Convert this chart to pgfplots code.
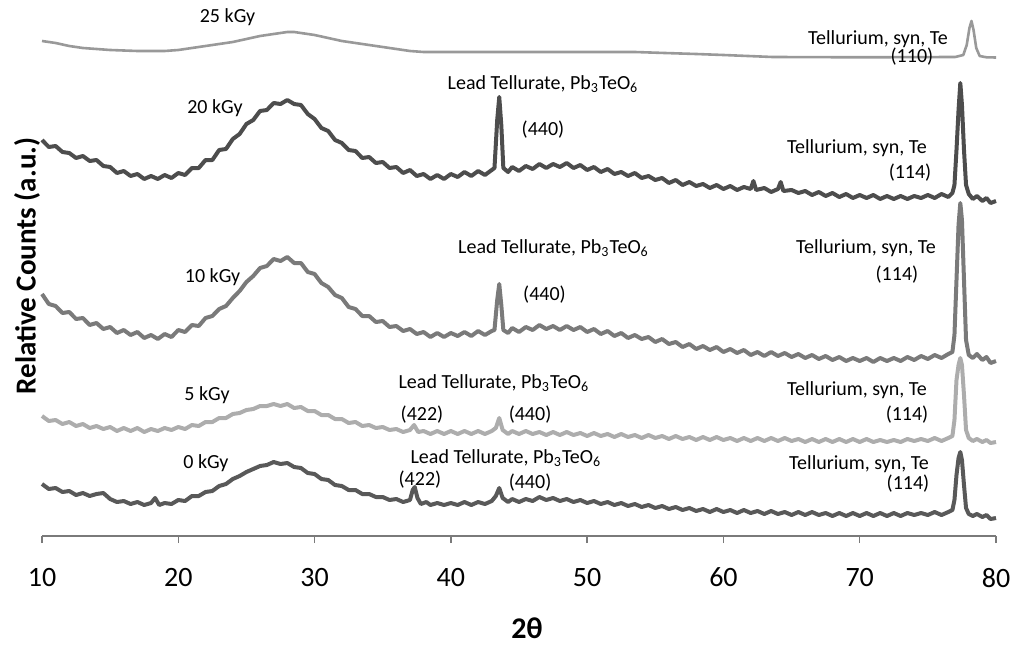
\documentclass[border=0pt]{standalone}
\usepackage{fontspec}
\setmainfont{Carlito}
\usepackage{pgfplots}
\pgfplotsset{compat=1.18}
\definecolor{cA}{HTML}{999999}
\definecolor{cB}{HTML}{4D4D4D}
\definecolor{cC}{HTML}{7A7A7A}
\definecolor{cD}{HTML}{ADADAD}
\definecolor{cE}{HTML}{595959}
\definecolor{axc}{HTML}{7A7A7A}
\begin{document}
\begin{tikzpicture}
\begin{axis}[
  scale only axis,
  width=477pt, height=268pt,
  xmin=10, xmax=80, ymin=-536, ymax=0,
  clip=false,
  axis x line*=bottom,
  axis y line=none,
  x axis line style={-, draw=axc, line width=0.75pt},
  xtick={10,20,30,40,50,60,70,80},
  ytick=\empty,
  tick align=outside,
  major tick length=3.5pt,
  tick style={draw=axc, line width=0.75pt},
  /pgf/number format/assume math mode=true,
  xticklabel style={font=\fontsize{14}{14}\selectfont, yshift=-9pt},
  every axis plot/.append style={line join=round},
]
\coordinate (BL) at (axis cs:6.918,-649);
\coordinate (TR) at (axis cs:82.054,0);

% 25 kGy
\addplot[cA, line width=1.3pt, mark=none] coordinates {
(10,-41)(11,-43)(12,-46)(13,-48)(14,-49)(15,-50)(16,-50.5)(17,-51)(18,-51)(19,-51)
(20,-50)(21,-48)(22,-46)(23,-44)(24,-42)(25,-39)(26,-36)(27,-34)(28,-32)(28.5,-32)
(29,-33)(30,-35)(31,-38)(32,-41)(33,-43)(34,-45)(35,-47)(36,-49)(37,-51)(38,-52)
(40,-52)(44,-52)(50,-52)(53.5,-52)(55.7,-53)(58,-54)(60,-55)(63.6,-57)(70,-57.3)
(77,-57)(77.6,-55)(77.85,-45)(78.05,-28)(78.2,-21)(78.35,-30)(78.55,-48)(78.8,-56)(79.3,-57.3)(80,-57.5)
};

% 20 kGy
\addplot[cB, line width=2pt, mark=none] coordinates {
(10,-140)(10.5,-147)(11,-146)(11.5,-152)(12,-153)(12.5,-158)(13,-156)(13.5,-161)(14,-160)(14.5,-166)
(15,-167)(15.5,-173)(16,-171)(16.5,-176)(17,-174)(17.5,-179)(18,-176)(18.5,-179)(19,-175)(19.5,-178)
(20,-173)(20.5,-175)(21,-168)(21.5,-168)(22,-160)(22.5,-160)(23,-150)(23.5,-149)(24,-139)(24.5,-134)
(25,-124)(25.5,-120)(26,-111)(26.5,-110)(27,-103)(27.5,-104)(28,-100)(28.5,-104)(29,-105)(29.5,-114)
(30,-119)(30.5,-128)(31,-131)(31.5,-140)(32,-143)(32.5,-150)(33,-151)(33.5,-158)(34,-157)(34.5,-163)
(35,-162)(35.5,-168)(36,-167)(36.5,-173)(37,-170)(37.5,-176)(38,-174)(38.5,-179)(39,-175)(39.5,-179)
(40,-174)(40.5,-177)(41,-172)(41.5,-176)(42,-171)(42.5,-175)(43,-170)(43.2,-168)(43.4,-120)(43.55,-97)
(43.7,-125)(43.85,-168)(44.2,-172)(44.5,-167)(45,-171)(45.5,-166)(46,-169)(46.5,-164)(47,-168)(47.5,-164)
(48,-167)(48.5,-163)(49,-168)(49.5,-165)(50,-170)(50.5,-167)(51,-172)(51.5,-169)(52,-174)(52.5,-172)
(53,-176)(53.5,-173)(54,-178)(54.5,-176)(55,-180)(55.5,-178)(56,-183)(56.5,-180)(57,-185)(57.5,-182)
(58,-186)(58.5,-184)(59,-188)(59.5,-185)(60,-189)(60.5,-186)(61,-190)(61.5,-187)(62,-189)(62.2,-181)
(62.4,-190)(63,-188)(63.5,-192)(64,-189)(64.2,-182)(64.4,-191)(65,-190)(65.5,-193)(66,-191)(66.5,-195)
(67,-192)(67.5,-196)(68,-193)(68.5,-197)(69,-194)(69.5,-198)(70,-195)(70.5,-198)(71,-195)(71.5,-199)
(72,-196)(72.5,-199)(73,-196)(73.5,-199)(74,-196)(74.5,-198)(75,-195)(75.5,-198)(76,-194)(76.5,-197)
(76.8,-193)(76.95,-185)(77.1,-150)(77.25,-110)(77.38,-83)(77.5,-105)(77.65,-150)(77.8,-185)(78,-194)
(78.3,-199)(78.6,-196)(79,-201)(79.3,-198)(79.6,-203)(80,-201)
};

% 10 kGy
\addplot[cC, line width=2pt, mark=none] coordinates {
(10,-294)(10.5,-304)(11,-306)(11.5,-313)(12,-312)(12.5,-319)(13,-318)(13.5,-325)(14,-323)(14.5,-329)
(15,-327)(15.5,-333)(16,-330)(16.5,-335)(17,-332)(17.5,-338)(18,-335)(18.5,-339)(19,-334)(19.5,-337)
(20,-330)(20.5,-332)(21,-325)(21.5,-326)(22,-318)(22.5,-316)(23,-309)(23.5,-306)(24,-298)(24.5,-291)
(25,-282)(25.5,-276)(26,-268)(26.5,-266)(27,-259)(27.5,-261)(28,-257)(28.5,-263)(29,-263)(29.5,-272)
(30,-274)(30.5,-283)(31,-287)(31.5,-295)(32,-298)(32.5,-307)(33,-309)(33.5,-316)(34,-316)(34.5,-322)
(35,-321)(35.5,-327)(36,-326)(36.5,-331)(37,-329)(37.5,-334)(38,-332)(38.5,-337)(39,-333)(39.5,-337)
(40,-333)(40.5,-336)(41,-332)(41.5,-336)(42,-331)(42.5,-335)(43,-331)(43.2,-330)(43.4,-300)(43.55,-284)
(43.7,-305)(43.85,-330)(44.2,-333)(44.5,-328)(45,-332)(45.5,-327)(46,-330)(46.5,-325)(47,-329)(47.5,-326)
(48,-330)(48.5,-326)(49,-330)(49.5,-327)(50,-332)(50.5,-329)(51,-334)(51.5,-331)(52,-336)(52.5,-333)
(53,-338)(53.5,-335)(54,-339)(54.5,-337)(55,-342)(55.5,-339)(56,-344)(56.5,-342)(57,-347)(57.5,-344)
(58,-349)(58.5,-346)(59,-350)(59.5,-347)(60,-352)(60.5,-349)(61,-353)(61.5,-350)(62,-355)(62.5,-352)
(63,-356)(63.5,-352)(64,-356)(64.5,-353)(65,-357)(65.5,-354)(66,-358)(66.5,-355)(67,-359)(67.5,-356)
(68,-360)(68.5,-357)(69,-361)(69.5,-358)(70,-361)(70.5,-358)(71,-362)(71.5,-358)(72,-361)(72.5,-358)
(73,-361)(73.5,-357)(74,-360)(74.5,-356)(75,-359)(75.5,-355)(76,-358)(76.5,-354)(76.8,-352)(76.95,-335)
(77.1,-280)(77.25,-225)(77.38,-203)(77.5,-220)(77.65,-280)(77.8,-340)(78,-355)(78.3,-358)(78.6,-354)
(79,-360)(79.3,-357)(79.6,-363)(80,-361)
};

% 5 kGy
\addplot[cD, line width=2pt, mark=none] coordinates {
(10,-416)(10.5,-421)(11,-420)(11.5,-424)(12,-422)(12.5,-426)(13,-424)(13.5,-428)(14,-426)(14.5,-429)
(15,-427)(15.5,-431)(16,-428)(16.5,-431)(17,-428)(17.5,-432)(18,-429)(18.5,-431)(19,-428)(19.5,-430)
(20,-427)(20.5,-429)(21,-425)(21.5,-426)(22,-422)(22.5,-422)(23,-418)(23.5,-418)(24,-414)(24.5,-413)
(25,-410)(25.5,-409)(26,-406)(26.5,-406)(27,-404)(27.5,-406)(28,-404)(28.5,-408)(29,-407)(29.5,-411)
(30,-411)(30.5,-415)(31,-415)(31.5,-419)(32,-419)(32.5,-423)(33,-422)(33.5,-426)(34,-425)(34.5,-428)
(35,-427)(35.5,-430)(36,-429)(36.5,-432)(37,-430)(37.3,-425)(37.6,-432)(38,-431)(38.5,-434)(39,-431)
(39.5,-434)(40,-431)(40.5,-434)(41,-431)(41.5,-434)(42,-431)(42.5,-434)(43,-431)(43.3,-428)(43.55,-418)
(43.8,-430)(44.2,-434)(44.5,-431)(45,-434)(45.5,-431)(46,-434)(46.5,-432)(47,-435)(47.5,-432)(48,-435)
(48.5,-432)(49,-435)(49.5,-433)(50,-436)(50.5,-433)(51,-436)(51.5,-434)(52,-437)(52.5,-434)(53,-437)
(53.5,-435)(54,-438)(54.5,-435)(55,-438)(55.5,-436)(56,-439)(56.5,-436)(57,-439)(57.5,-437)(58,-440)
(58.5,-437)(59,-440)(59.5,-437)(60,-440)(60.5,-438)(61,-441)(61.5,-438)(62,-441)(62.5,-438)(63,-441)
(63.5,-438)(64,-441)(64.5,-438)(65,-441)(65.5,-439)(66,-442)(66.5,-439)(67,-442)(67.5,-439)(68,-442)
(68.5,-439)(69,-442)(69.5,-439)(70,-442)(70.5,-439)(71,-442)(71.5,-440)(72,-442)(72.5,-440)(73,-442)
(73.5,-439)(74,-441)(74.5,-439)(75,-441)(75.5,-438)(76,-441)(76.5,-438)(76.8,-436)(76.95,-420)(77.1,-380)
(77.25,-365)(77.38,-358)(77.5,-365)(77.65,-395)(77.8,-430)(78,-438)(78.3,-441)(78.6,-439)(79,-442)
(79.3,-440)(79.6,-443)(80,-442)
};

% 0 kGy
\addplot[cE, line width=2pt, mark=none] coordinates {
(10,-484)(10.5,-489)(11,-488)(11.5,-492)(12,-491)(12.5,-495)(13,-493)(13.5,-496)(14,-494)(14.5,-493)
(15,-499)(15.5,-502)(16,-501)(16.5,-504)(17,-502)(17.5,-505)(18,-503)(18.3,-498)(18.6,-505)(19,-503)
(19.5,-504)(20,-500)(20.5,-501)(21,-496)(21.5,-496)(22,-492)(22.5,-491)(23,-486)(23.5,-484)(24,-479)
(24.5,-476)(25,-472)(25.5,-469)(26,-466)(26.5,-465)(27,-462)(27.5,-464)(28,-463)(28.5,-467)(29,-468)
(29.5,-473)(30,-474)(30.5,-479)(31,-480)(31.5,-485)(32,-486)(32.5,-490)(33,-490)(33.5,-494)(34,-494)
(34.5,-497)(35,-497)(35.5,-500)(36,-499)(36.5,-502)(37,-500)(37.2,-490)(37.35,-487)(37.55,-498)(37.8,-504)
(38.2,-502)(38.5,-505)(39,-503)(39.5,-505)(40,-503)(40.5,-505)(41,-502)(41.5,-505)(42,-502)(42.5,-504)
(43,-501)(43.3,-496)(43.55,-488)(43.8,-498)(44.2,-502)(44.5,-499)(45,-502)(45.5,-499)(46,-501)(46.5,-497)
(47,-500)(47.5,-498)(48,-501)(48.5,-499)(49,-502)(49.5,-500)(50,-503)(50.5,-501)(51,-504)(51.5,-502)
(52,-505)(52.5,-503)(53,-506)(53.5,-504)(54,-507)(54.5,-505)(55,-508)(55.5,-506)(56,-509)(56.5,-507)
(57,-510)(57.5,-508)(58,-511)(58.5,-509)(59,-512)(59.5,-509)(60,-512)(60.5,-510)(61,-513)(61.5,-510)
(62,-513)(62.5,-511)(63,-514)(63.5,-511)(64,-514)(64.5,-512)(65,-515)(65.5,-512)(66,-515)(66.5,-512)
(67,-515)(67.5,-513)(68,-516)(68.5,-513)(69,-516)(69.5,-513)(70,-516)(70.5,-513)(71,-516)(71.5,-513)
(72,-516)(72.5,-513)(73,-516)(73.5,-513)(74,-515)(74.5,-513)(75,-515)(75.5,-512)(76,-515)(76.5,-512)
(76.8,-510)(76.95,-500)(77.1,-475)(77.25,-458)(77.38,-452)(77.5,-460)(77.65,-485)(77.8,-508)(78,-514)
(78.3,-516)(78.6,-514)(79,-517)(79.3,-515)(79.6,-519)(80,-518)
};

% annotations
\tikzset{ann/.style={font=\fontsize{10}{10}\selectfont, inner sep=0pt}}
\node[ann] at (axis cs:23.61,-17) {25 kGy};
\node[ann] at (axis cs:71.34,-39) {Tellurium, syn, Te};
\node[ann] at (axis cs:73.83,-57) {(110)};

\node[ann] at (axis cs:22.69,-108) {20 kGy};
\node[ann] at (axis cs:46.76,-84) {Lead Tellurate, Pb\textsubscript{3}TeO\textsubscript{6}};
\node[ann] at (axis cs:46.76,-130) {(440)};
\node[ann] at (axis cs:69.80,-148) {Tellurium, syn, Te};
\node[ann] at (axis cs:73.69,-173) {(114)};

\node[ann] at (axis cs:22.51,-277) {10 kGy};
\node[ann] at (axis cs:47.53,-248) {Lead Tellurate, Pb\textsubscript{3}TeO\textsubscript{6}};
\node[ann] at (axis cs:46.87,-295) {(440)};
\node[ann] at (axis cs:70.46,-248) {Tellurium, syn, Te};
\node[ann] at (axis cs:72.73,-275) {(114)};

\node[ann] at (axis cs:22.11,-395) {5 kGy};
\node[ann] at (axis cs:43.16,-383) {Lead Tellurate, Pb\textsubscript{3}TeO\textsubscript{6}};
\node[ann] at (axis cs:37.88,-415) {(422)};
\node[ann] at (axis cs:45.81,-415) {(440)};
\node[ann] at (axis cs:69.80,-390) {Tellurium, syn, Te};
\node[ann] at (axis cs:73.47,-415) {(114)};

\node[ann] at (axis cs:22.03,-463) {0 kGy};
\node[ann] at (axis cs:44.04,-458) {Lead Tellurate, Pb\textsubscript{3}TeO\textsubscript{6}};
\node[ann] at (axis cs:37.73,-480) {(422)};
\node[ann] at (axis cs:45.81,-483) {(440)};
\node[ann] at (axis cs:69.95,-464) {Tellurium, syn, Te};
\node[ann] at (axis cs:73.54,-484) {(114)};

% axis labels
\node[rotate=90, font=\fontsize{14.5}{14.5}\selectfont\bfseries, inner sep=0pt] at (axis cs:8.90,-266) {Relative Counts (a.u.)};
\node[font=\fontsize{15}{15}\selectfont\bfseries, inner sep=0pt] at (axis cs:45.59,-628) {2θ};
\end{axis}
\pgfresetboundingbox
\path (BL) rectangle (TR);
\end{tikzpicture}
\end{document}
